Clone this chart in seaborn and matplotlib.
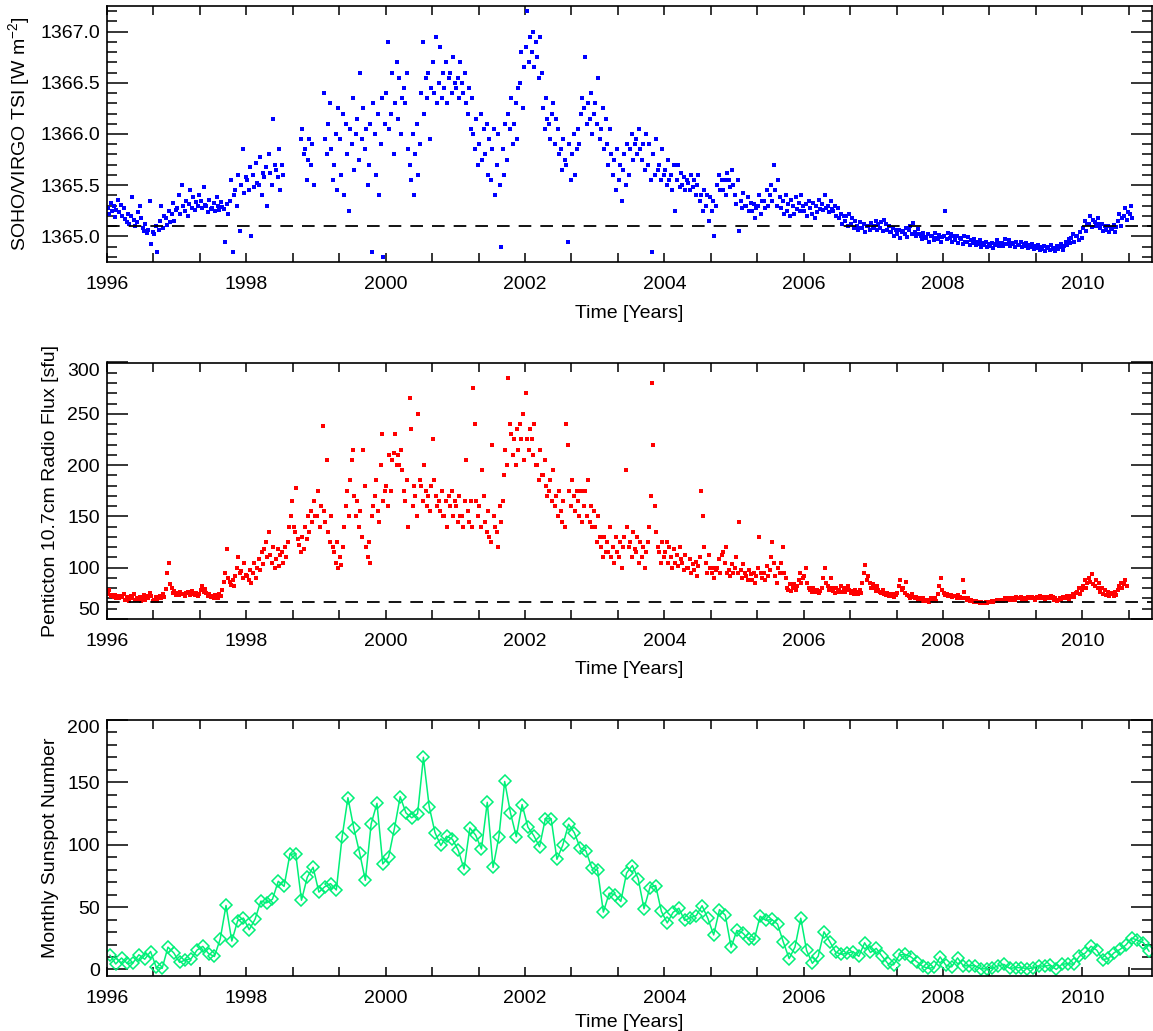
import numpy as np
import pandas as pd
import seaborn as sns
from matplotlib import pyplot as plt
from matplotlib.ticker import MultipleLocator, FuncFormatter
from matplotlib.transforms import ScaledTranslation

nan = np.nan

# SOHO/VIRGO TSI [W m-2], ~weekly readings (4 per month)
tsi_1996 = [1365.28, 1365.22, 1365.33, 1365.25, 1365.30, 1365.19, 1365.26, 1365.36, 1365.24, 1365.31, 1365.20, 1365.28,
            1365.17, 1365.14, 1365.22, 1365.12, 1365.20, 1365.38, 1365.16, 1365.10, 1365.14, 1365.24, 1365.30, 1365.18,
            1365.08, 1365.05, 1365.12, 1365.03, 1365.06, 1365.35, 1364.93, 1365.04, 1365.02, 1365.10, 1364.85, 1365.06,
            1365.15, 1365.30, 1365.08, 1365.20, 1365.18, 1365.11, 1365.25, 1365.14, 1365.22, 1365.33, 1365.15, 1365.26]
tsi_1997 = [1365.28, 1365.40, 1365.22, 1365.50, 1365.30, 1365.25, 1365.35, 1365.20, 1365.32, 1365.45, 1365.28, 1365.38,
            1365.26, 1365.34, 1365.30, 1365.40, 1365.35, 1365.28, 1365.48, 1365.31, 1365.30, 1365.24, 1365.36, 1365.27,
            1365.28, 1365.33, 1365.25, 1365.38, 1365.30, 1365.26, 1365.34, 1365.29, 1365.27, 1364.95, 1365.32, 1365.22,
            1365.35, 1365.55, 1364.85, 1365.40, 1365.45, 1365.30, 1365.60, 1365.05, 1365.50, 1365.85, 1365.42, 1365.58]
tsi_1998 = [1365.55, 1365.45, 1365.68, 1365.00, 1365.60, 1365.48, 1365.72, 1365.52, 1365.50, 1365.78, 1365.40, 1365.62,
            1365.58, 1365.68, 1365.30, 1365.80, 1365.62, 1365.50, 1366.15, 1365.70, 1365.65, 1365.58, 1365.85, 1365.45,
            1365.70, 1365.60, nan, nan, nan, nan, nan, nan, nan, nan, nan, nan,
            nan, 1365.95, 1366.05, 1365.80, 1365.85, 1365.55, 1365.75, 1365.95, 1365.70, 1365.90, 1365.50, nan]
tsi_1999 = [nan, nan, nan, nan, nan, 1366.40, 1365.95, 1365.80, 1366.10, 1366.30, 1365.85, 1365.55,
            1365.70, 1366.00, 1365.45, 1366.25, 1365.95, 1365.60, 1366.20, 1365.40, 1366.10, 1365.80, 1365.25, 1366.05,
            1365.90, 1366.35, 1365.65, 1366.00, 1366.15, 1365.75, 1366.60, 1365.95, 1366.25, 1365.85, 1366.05, 1365.50,
            1365.70, 1366.10, 1364.85, 1366.30, 1366.00, 1365.60, 1366.20, 1365.40, 1365.90, 1366.35, 1364.80, 1366.10]
tsi_2000 = [1366.40, 1366.90, 1366.05, 1366.20, 1366.60, 1365.80, 1366.30, 1366.70, 1366.15, 1366.55, 1366.00, 1366.35,
            1366.45, 1366.30, 1366.60, 1365.85, 1365.70, 1365.55, 1366.00, 1365.40, 1365.80, 1366.10, 1365.60, 1365.90,
            1366.40, 1366.90, 1366.20, 1366.55, 1366.35, 1366.60, 1365.95, 1366.45, 1366.70, 1366.40, 1366.95, 1366.30,
            1366.50, 1366.85, 1366.35, 1366.60, 1366.45, 1366.70, 1366.30, 1366.55, 1366.60, 1366.40, 1366.75, 1366.50]
tsi_2001 = [1366.45, 1366.55, 1366.35, 1366.70, 1366.50, 1366.40, 1366.60, 1366.30, 1366.20, 1366.45, 1366.05, 1366.35,
            1366.00, 1365.85, 1366.15, 1365.70, 1365.90, 1366.20, 1365.75, 1366.05, 1365.80, 1366.10, 1365.60, 1365.95,
            1365.55, 1365.85, 1366.05, 1365.40, 1365.70, 1366.00, 1365.50, 1364.90, 1365.85, 1365.60, 1366.10, 1365.75,
            1366.20, 1366.05, 1366.35, 1365.90, 1366.10, 1366.30, 1365.95, 1366.45, 1366.50, 1366.80, 1366.25, 1366.65]
tsi_2002 = [1366.85, 1367.20, 1366.70, 1366.95, 1366.80, 1367.00, 1366.65, 1366.90, 1366.75, 1366.55, 1366.95, 1366.60,
            1366.25, 1366.05, 1366.35, 1366.15, 1366.10, 1365.95, 1366.20, 1366.30, 1365.90, 1366.15, 1366.05, 1365.80,
            1365.85, 1365.65, 1365.95, 1365.75, 1365.70, 1364.95, 1365.90, 1365.55, 1365.80, 1366.00, 1365.60, 1365.85,
            1366.05, 1365.90, 1366.20, 1366.35, 1366.25, 1366.75, 1366.10, 1366.30, 1366.15, 1366.40, 1366.00, 1366.20]
tsi_2003 = [1366.30, 1366.10, 1366.55, 1365.95, 1366.05, 1366.25, 1365.85, 1366.15, 1365.90, 1365.70, 1366.05, 1365.80,
            1365.60, 1365.75, 1365.45, 1365.85, 1365.55, 1365.70, 1365.35, 1365.65, 1365.80, 1365.50, 1365.90, 1365.60,
            1365.85, 1366.00, 1365.75, 1365.90, 1365.95, 1365.80, 1366.05, 1365.85, 1365.75, 1365.90, 1365.65, 1366.00,
            1365.70, 1365.90, 1365.55, 1364.85, 1365.80, 1365.60, 1365.95, 1365.65, 1365.70, 1365.55, 1365.85, 1365.60]
tsi_2004 = [1365.65, 1365.50, 1365.75, 1365.55, 1365.60, 1365.45, 1365.70, 1365.25, 1365.55, 1365.70, 1365.48, 1365.62,
            1365.50, 1365.58, 1365.45, 1365.55, 1365.52, 1365.45, 1365.60, 1365.48, 1365.55, 1365.40, 1365.50, 1365.60,
            1365.35, 1365.40, 1365.25, 1365.45, 1365.30, 1365.40, 1365.15, 1365.38, 1365.25, 1365.35, 1365.00, 1365.30,
            1365.50, 1365.60, 1365.45, 1365.55, 1365.45, 1365.55, 1365.40, 1365.62, 1365.55, 1365.48, 1365.65, 1365.50]
tsi_2005 = [1365.40, 1365.32, 1365.55, 1365.05, 1365.35, 1365.28, 1365.42, 1365.30, 1365.30, 1365.38, 1365.25, 1365.33,
            1365.25, 1365.32, 1365.18, 1365.28, 1365.30, 1365.40, 1365.22, 1365.35, 1365.35, 1365.28, 1365.45, 1365.30,
            1365.40, 1365.50, 1365.35, 1365.70, 1365.45, 1365.30, 1365.55, 1365.38, 1365.28, 1365.35, 1365.22, 1365.40,
            1365.25, 1365.32, 1365.20, 1365.36, 1365.30, 1365.22, 1365.38, 1365.27, 1365.33, 1365.25, 1365.40, 1365.30]
tsi_2006 = [1365.25, 1365.32, 1365.20, 1365.35, 1365.28, 1365.22, 1365.33, 1365.18, 1365.30, 1365.24, 1365.36, 1365.27,
            1365.32, 1365.26, 1365.40, 1365.28, 1365.30, 1365.24, 1365.35, 1365.27, 1365.25, 1365.30, 1365.20, 1365.28,
            1365.18, 1365.22, 1365.12, 1365.20, 1365.15, 1365.20, 1365.10, 1365.22, 1365.12, 1365.18, 1365.08, 1365.15,
            1365.10, 1365.06, 1365.14, 1365.08, 1365.08, 1365.12, 1365.04, 1365.10, 1365.10, 1365.06, 1365.13, 1365.08]
tsi_2007 = [1365.10, 1365.15, 1365.06, 1365.12, 1365.08, 1365.14, 1365.05, 1365.16, 1365.12, 1365.06, 1365.10, 1365.04,
            1365.04, 1365.08, 1365.00, 1365.06, 1365.02, 1365.06, 1364.98, 1365.04, 1365.05, 1365.02, 1365.08, 1364.99,
            1365.06, 1365.10, 1365.02, 1365.13, 1365.04, 1365.00, 1365.07, 1365.02, 1365.00, 1364.97, 1365.03, 1364.99,
            1364.98, 1365.02, 1364.95, 1365.00, 1365.00, 1364.96, 1365.03, 1364.98, 1364.97, 1365.01, 1364.95, 1364.99]
tsi_2008 = [1365.00, 1365.25, 1364.97, 1365.03, 1364.98, 1365.02, 1364.95, 1365.00, 1364.96, 1365.00, 1364.94, 1364.98,
            1364.97, 1364.93, 1365.00, 1364.95, 1364.95, 1364.99, 1364.92, 1364.96, 1364.94, 1364.97, 1364.92, 1364.95,
            1364.93, 1364.96, 1364.90, 1364.94, 1364.92, 1364.95, 1364.90, 1364.93, 1364.91, 1364.94, 1364.89, 1364.92,
            1364.93, 1364.96, 1364.91, 1364.94, 1364.94, 1364.91, 1364.97, 1364.93, 1364.93, 1364.96, 1364.91, 1364.94]
tsi_2009 = [1364.93, 1364.90, 1364.95, 1364.92, 1364.92, 1364.95, 1364.90, 1364.93, 1364.91, 1364.94, 1364.89, 1364.92,
            1364.90, 1364.93, 1364.88, 1364.91, 1364.89, 1364.92, 1364.87, 1364.90, 1364.88, 1364.91, 1364.86, 1364.89,
            1364.90, 1364.87, 1364.92, 1364.88, 1364.89, 1364.86, 1364.91, 1364.88, 1364.90, 1364.93, 1364.87, 1364.91,
            1364.95, 1364.92, 1364.97, 1364.94, 1364.98, 1365.02, 1364.95, 1365.00, 1365.00, 1364.96, 1365.04, 1364.98]
tsi_2010 = [1365.08, 1365.15, 1365.05, 1365.12, 1365.12, 1365.20, 1365.09, 1365.16, 1365.14, 1365.10, 1365.18, 1365.12,
            1365.08, 1365.12, 1365.05, 1365.10, 1365.06, 1365.10, 1365.04, 1365.08, 1365.07, 1365.11, 1365.04, 1365.09,
            1365.15, 1365.22, 1365.10, 1365.18, 1365.20, 1365.28, 1365.16, 1365.24, 1365.22, 1365.30, 1365.18, nan]

# Penticton 10.7 cm radio flux [sfu], 4 readings per month
f107_1996 = [74, 78, 72, 73, 71, 73, 70, 72, 70, 72, 71, 74, 69, 71, 70, 68, 72, 70, 74, 69, 70, 69, 71, 68,
             71, 73, 69, 72, 70, 75, 72, 68, 69, 71, 68, 70, 72, 70, 74, 71, 79, 95, 105, 84, 80, 75, 77, 73]
f107_1997 = [75, 73, 76, 74, 74, 72, 75, 76, 75, 73, 77, 74, 73, 75, 72, 74, 78, 82, 76, 79, 75, 72, 74, 71,
             72, 70, 73, 71, 70, 74, 72, 78, 86, 95, 118, 90, 86, 83, 88, 82, 92, 100, 110, 95, 97, 90, 105, 93]
f107_1998 = [92, 88, 98, 85, 95, 105, 90, 100, 108, 98, 115, 104, 118, 125, 110, 135, 112, 105, 120, 100,
             108, 118, 102, 112, 115, 105, 120, 110, 125, 140, 150, 165, 140, 135, 178, 128, 122, 115, 130, 118,
             140, 128, 150, 135, 155, 145, 165, 150]
f107_1999 = [150, 175, 140, 160, 238, 155, 145, 205, 135, 125, 150, 120, 115, 105, 125, 100, 110, 103, 120, 140,
             160, 175, 150, 185, 205, 215, 170, 150, 165, 140, 155, 130, 215, 180, 120, 110, 125, 105, 150, 160,
             170, 185, 155, 145, 200, 230, 165, 175]
f107_2000 = [180, 160, 210, 175, 205, 212, 230, 200, 210, 200, 215, 195, 175, 165, 185, 140, 265, 235, 160, 180,
             170, 150, 250, 185, 180, 165, 200, 175, 160, 170, 155, 180, 225, 185, 170, 160, 165, 155, 175, 150,
             150, 165, 140, 170, 160, 175, 150, 165]
f107_2001 = [160, 145, 170, 150, 150, 140, 165, 205, 155, 145, 165, 140, 275, 240, 165, 150, 160, 140, 195, 170,
             145, 135, 155, 130, 125, 220, 150, 140, 135, 120, 160, 145, 165, 190, 215, 200, 285, 240, 230, 210,
             225, 200, 235, 215, 240, 225, 250, 205]
f107_2002 = [270, 225, 215, 235, 225, 210, 240, 200, 200, 185, 215, 190, 190, 205, 180, 170, 175, 185, 165, 195,
             160, 170, 150, 175, 155, 145, 165, 140, 240, 220, 175, 160, 185, 170, 155, 175, 165, 150, 175, 145,
             160, 175, 150, 185, 145, 160, 140, 155]
f107_2003 = [140, 125, 150, 130, 120, 110, 130, 115, 125, 115, 140, 110, 120, 105, 130, 115, 110, 125, 100, 120,
             130, 195, 140, 120, 125, 110, 135, 118, 115, 130, 105, 125, 110, 120, 100, 115, 125, 140, 170, 280,
             220, 160, 135, 120, 115, 105, 125, 110]
f107_2004 = [115, 125, 105, 120, 110, 100, 118, 105, 112, 102, 120, 108, 105, 98, 112, 100, 100, 108, 95, 104,
             98, 106, 92, 102, 110, 175, 150, 120, 105, 95, 112, 100, 95, 100, 90, 98, 100, 108, 95, 112,
             115, 105, 120, 95, 98, 92, 104, 95]
f107_2005 = [100, 110, 95, 145, 98, 90, 104, 95, 92, 88, 98, 94, 88, 95, 85, 92, 100, 130, 95, 90,
             95, 88, 102, 92, 98, 110, 125, 105, 92, 85, 100, 95, 105, 120, 95, 90, 80, 78, 84, 77,
             80, 84, 78, 82, 88, 95, 85, 90]
f107_2006 = [92, 100, 85, 80, 78, 76, 80, 77, 76, 78, 75, 77, 80, 90, 100, 85, 82, 78, 90, 80,
             77, 75, 80, 76, 78, 82, 76, 80, 76, 80, 82, 78, 75, 77, 74, 78, 76, 74, 78, 75,
             85, 95, 103, 88, 92, 85, 80, 84]
f107_2007 = [80, 77, 82, 78, 76, 75, 78, 74, 73, 75, 72, 74, 72, 74, 71, 73, 75, 82, 88, 78,
             80, 75, 86, 73, 72, 70, 74, 71, 70, 71, 69, 70, 69, 68, 70, 69, 68, 69, 67, 70,
             69, 68, 70, 68, 74, 82, 90, 78]
f107_2008 = [75, 73, 74, 72, 72, 73, 71, 72, 72, 70, 73, 71, 70, 88, 76, 70, 69, 70, 68, 69,
             68, 67, 68, 67, 67, 66, 67, 66, 66, 67, 66, 67, 67, 68, 67, 68, 68, 69, 68, 69,
             69, 68, 70, 69, 70, 69, 70, 69]
f107_2009 = [70, 69, 71, 70, 70, 71, 69, 70, 70, 69, 71, 70, 70, 71, 70, 69, 71, 70, 72, 70,
             70, 71, 69, 70, 71, 70, 72, 71, 69, 70, 68, 69, 70, 69, 71, 70, 70, 72, 69, 71,
             72, 74, 71, 75, 76, 80, 74, 78]
f107_2010 = [82, 88, 80, 85, 90, 86, 94, 84, 82, 88, 80, 85, 76, 80, 74, 78, 73, 76, 72, 75,
             74, 72, 76, 73, 78, 82, 85, 80, 84, 88, 82, nan]

# monthly sunspot number, Jan 1996 - Dec 2010
ssn_1996 = [11.5, 4.4, 9.2, 4.8, 5.5, 11.8, 8.2, 14.4, 1.6, 0.9, 17.9, 13.3]
ssn_1997 = [5.7, 7.6, 8.7, 15.5, 18.5, 12.7, 10.4, 24.4, 51.3, 22.8, 39.0, 41.2]
ssn_1998 = [31.9, 40.3, 54.8, 53.4, 56.3, 70.7, 66.6, 92.2, 92.9, 55.5, 74.0, 81.9]
ssn_1999 = [62.0, 66.3, 68.8, 63.7, 106.4, 137.7, 113.5, 93.7, 71.5, 116.7, 133.2, 84.6]
ssn_2000 = [90.1, 112.9, 138.5, 125.5, 121.6, 124.9, 170.1, 130.5, 109.7, 99.4, 106.8, 104.4]
ssn_2001 = [95.6, 80.6, 113.5, 107.7, 96.6, 134.0, 81.8, 106.4, 150.7, 125.5, 106.5, 132.2]
ssn_2002 = [114.1, 107.4, 98.4, 120.7, 120.8, 88.3, 99.6, 116.4, 109.6, 97.5, 95.0, 81.6]
ssn_2003 = [79.5, 46.0, 61.1, 60.0, 54.6, 77.4, 83.3, 72.7, 48.7, 65.5, 67.3, 46.5]
ssn_2004 = [37.3, 45.8, 49.1, 39.3, 41.5, 43.2, 51.1, 40.9, 27.7, 48.0, 43.5, 17.9]
ssn_2005 = [31.3, 29.2, 24.5, 24.2, 42.7, 39.3, 40.1, 36.4, 21.9, 8.7, 18.0, 41.1]
ssn_2006 = [15.3, 4.9, 10.6, 30.2, 22.3, 13.9, 12.2, 12.9, 14.4, 10.5, 21.4, 13.6]
ssn_2007 = [16.9, 10.6, 4.8, 3.7, 11.7, 12.0, 10.0, 6.2, 2.4, 0.9, 1.7, 10.1]
ssn_2008 = [3.4, 2.1, 9.3, 2.9, 2.9, 3.1, 0.5, 0.5, 1.1, 2.9, 4.1, 0.8]
ssn_2009 = [1.5, 1.4, 0.7, 1.2, 2.9, 2.6, 3.5, 0.0, 4.2, 4.6, 4.2, 10.6]
ssn_2010 = [13.1, 18.6, 15.4, 7.9, 8.8, 13.5, 16.1, 19.6, 25.2, 23.5, 21.6, 14.5]

tsi_quiet = 1365.1
f107_quiet = 67

tsi = np.array(tsi_1996 + tsi_1997 + tsi_1998 + tsi_1999 + tsi_2000 + tsi_2001 + tsi_2002 + tsi_2003
               + tsi_2004 + tsi_2005 + tsi_2006 + tsi_2007 + tsi_2008 + tsi_2009 + tsi_2010)
f107 = np.array(f107_1996 + f107_1997 + f107_1998 + f107_1999 + f107_2000 + f107_2001 + f107_2002 + f107_2003
                + f107_2004 + f107_2005 + f107_2006 + f107_2007 + f107_2008 + f107_2009 + f107_2010, dtype=float)
ssn = np.array(ssn_1996 + ssn_1997 + ssn_1998 + ssn_1999 + ssn_2000 + ssn_2001 + ssn_2002 + ssn_2003
               + ssn_2004 + ssn_2005 + ssn_2006 + ssn_2007 + ssn_2008 + ssn_2009 + ssn_2010)

# decimal years: 48 readings per year, 12 months per year
df_tsi = pd.DataFrame({"t": 1996 + (np.arange(len(tsi)) + 0.5) / 48, "v": tsi}).dropna()
df_f107 = pd.DataFrame({"t": 1996 + (np.arange(len(f107)) + 0.5) / 48, "v": f107}).dropna()
df_ssn = pd.DataFrame({"t": 1996 + (np.arange(len(ssn)) + 0.5) / 12, "v": ssn})

sns.set_theme(style="ticks")
plt.rcParams["font.family"] = ["Liberation Sans", "DejaVu Sans"]
plt.rcParams["mathtext.fontset"] = "custom"
plt.rcParams["mathtext.rm"] = "Liberation Sans"
plt.rcParams["mathtext.it"] = "Liberation Sans:italic"
plt.rcParams["text.color"] = "black"
plt.rcParams["axes.labelcolor"] = "black"
plt.rcParams["xtick.color"] = "black"
plt.rcParams["ytick.color"] = "black"

FS = 14
fig = plt.figure(figsize=(11.53, 10.31), dpi=100)
L, R = 107 / 1153, 1152 / 1153
ax1 = fig.add_axes([L, 1 - 262 / 1031, R - L, 256 / 1031])
ax2 = fig.add_axes([L, 1 - 619 / 1031, R - L, 256.5 / 1031])
ax3 = fig.add_axes([L, 1 - 975.7 / 1031, R - L, 255.7 / 1031])

sns.scatterplot(data=df_tsi, x="t", y="v", ax=ax1, color="#0000ff", marker="s", s=5, linewidth=0)
ax1.axhline(tsi_quiet, color="black", ls=(0, (7, 5)), lw=1.3)
ax1.set_ylim(1364.75, 1367.25)
ax1.yaxis.set_major_locator(MultipleLocator(0.5))
ax1.yaxis.set_minor_locator(MultipleLocator(0.1))
ax1.yaxis.set_major_formatter(plt.FormatStrFormatter("%.1f"))
ax1.set_ylabel("SOHO/VIRGO TSI [W m$^{-2}$]", labelpad=6)

sns.scatterplot(data=df_f107, x="t", y="v", ax=ax2, color="#ff0000", marker="s", s=5, linewidth=0)
ax2.axhline(f107_quiet, color="black", ls=(0, (7, 5)), lw=1.3)
ax2.set_ylim(50, 300)
ax2.yaxis.set_major_locator(MultipleLocator(50))
ax2.yaxis.set_minor_locator(MultipleLocator(10))
ax2.set_ylabel("Penticton 10.7cm Radio Flux [sfu]", labelpad=6)

sns.lineplot(data=df_ssn, x="t", y="v", ax=ax3, color="#00f078", lw=1.1, marker="D", markersize=6.2,
             markerfacecolor="none", markeredgecolor="#00f078", markeredgewidth=1.1)
ax3.set_ylim(-5, 200)
ax3.yaxis.set_major_locator(MultipleLocator(50))
ax3.yaxis.set_minor_locator(MultipleLocator(10))
ax3.set_ylabel("Monthly Sunspot Number", labelpad=6)

for ax, lp in ((ax1, 9), (ax2, 8), (ax3, 5)):
    ax.set_xlim(1996, 2011)
    ax.xaxis.set_major_locator(MultipleLocator(2))
    ax.xaxis.set_minor_locator(MultipleLocator(2 / 3))
    ax.set_xlabel("Time [Years]", labelpad=lp)
    ax.tick_params(which="both", direction="in", top=True, right=True, color="black", width=1.1)
    ax.tick_params(axis="y", which="major", length=15, pad=5, labelsize=FS, labelcolor="black")
    ax.tick_params(axis="y", which="minor", length=7.5)
    ax.tick_params(axis="x", which="major", length=6.5, pad=10, labelsize=FS, labelcolor="black")
    ax.tick_params(axis="x", which="minor", length=6.5)
    ax.xaxis.label.set_size(FS)
    ax.yaxis.label.set_size(FS)
    for sp in ax.spines.values():
        sp.set_linewidth(1.2)
        sp.set_color("black")


# end labels of panels 2 and 3 sit inside the panel, as in the original
def pull_in(ax, values, vas):
    ax.yaxis.set_major_formatter(FuncFormatter(lambda v, p: "" if v in values else "%g" % v))
    tr = ax.get_yaxis_transform() + ScaledTranslation(-5 / 72, 0, fig.dpi_scale_trans)
    for v, va in zip(values, vas):
        ax.text(0, v, "%g" % v, transform=tr, ha="right", va=va, fontsize=FS)


pull_in(ax2, [50, 300], ["bottom", "top"])
pull_in(ax3, [200], ["top"])

plt.savefig("out.png", dpi=100)
